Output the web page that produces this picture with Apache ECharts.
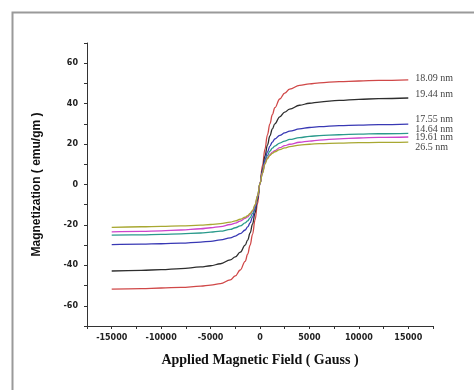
<!DOCTYPE html>
<html>
<head>
<meta charset="utf-8">
<script src="https://cdn.jsdelivr.net/npm/echarts@6/dist/echarts.min.js"></script>
<style>
  html, body { margin: 0; padding: 0; background: #fff; }
  #chart { width: 474px; height: 390px; }
</style>
</head>
<body>
<div id="chart"></div>
<script>
// applied field (Gauss)
const fieldG = [-15000, -12000, -10000, -8000, -6000, -5000, -4000, -3000, -2500, -2000, -1500, -1250, -1000, -750, -500, -250, 0,
  250, 500, 750, 1000, 1250, 1500, 2000, 2500, 3000, 4000, 5000, 6000, 8000, 10000, 12000, 15000];

// magnetization (emu/gm)
const m1809 = [-51.8, -51.5, -51.2, -50.9, -50.3, -49.8, -49.0, -47.2, -45.2, -42.3, -38.0, -34.5, -30.0, -24.5, -17.5, -9.5, 0.5,
  9.5, 17.5, 24.5, 30.0, 34.5, 38.0, 42.3, 45.2, 47.2, 49.0, 49.8, 50.3, 50.9, 51.2, 51.5, 51.8];
const m1944 = [-42.8, -42.5, -42.1, -41.6, -40.8, -40.2, -39.2, -37.3, -35.8, -33.5, -30.0, -27.5, -24.0, -19.5, -14.0, -7.5, 0.5,
  7.5, 14.0, 19.5, 24.0, 27.5, 30.0, 33.5, 35.8, 37.3, 39.2, 40.2, 40.8, 41.6, 42.1, 42.5, 42.8];
const m1755 = [-29.7, -29.5, -29.3, -29.0, -28.5, -28.1, -27.4, -26.4, -25.5, -24.3, -22.5, -21.0, -19.0, -16.0, -12.0, -6.5, 0.5,
  6.5, 12.0, 16.0, 19.0, 21.0, 22.5, 24.3, 25.5, 26.4, 27.5, 28.2, 28.6, 29.1, 29.4, 29.6, 29.9];
const m1464 = [-25.0, -24.9, -24.7, -24.4, -24.0, -23.6, -23.1, -22.2, -21.4, -20.5, -19.0, -18.0, -16.5, -14.3, -11.0, -6.0, 0.5,
  6.0, 11.0, 14.3, 16.5, 18.0, 19.0, 20.5, 21.5, 22.3, 23.2, 23.8, 24.2, 24.6, 24.9, 25.1, 25.3];
const m1961 = [-23.4, -23.2, -22.9, -22.5, -21.9, -21.4, -20.8, -19.8, -19.1, -18.1, -16.8, -16.0, -14.8, -13.2, -10.5, -5.8, 0.5,
  5.8, 10.5, 13.2, 14.8, 16.0, 16.8, 18.2, 19.2, 19.9, 20.9, 21.5, 22.0, 22.6, 23.0, 23.3, 23.5];
const m265 = [-21.2, -20.9, -20.7, -20.5, -20.1, -19.8, -19.4, -18.6, -18.0, -17.2, -16.2, -15.4, -14.3, -12.8, -10.0, -5.5, 0.5,
  5.5, 10.0, 12.8, 14.3, 15.4, 16.2, 17.3, 18.1, 18.7, 19.5, 19.9, 20.2, 20.5, 20.7, 20.8, 21.0];

const sizeLabels = ['18.09 nm', '19.44 nm', '17.55 nm', '14.64 nm', '19.61 nm', '26.5 nm'];
const yTicks = [-60, -40, -20, 0, 20, 40, 60];
const xTicks = [-15000, -10000, -5000, 0, 5000, 10000, 15000];

const seriesData = [m1809, m1944, m1755, m1464, m1961, m265];
const colors = ['#d04848', '#2e2e2e', '#3838b4', '#2a9a8c', '#cc44cc', '#a8a832'];
const labelDy = [-1, -4, -5, -4, 0, 5];

const chart = echarts.init(document.getElementById('chart'), null, { renderer: 'canvas' });

const tickFont = { color: '#222', fontSize: 8, fontWeight: 'bold', fontFamily: 'DejaVu Sans' };

chart.setOption({
  animation: false,
  backgroundColor: '#fff',
  graphic: [{
    type: 'rect', left: 10, top: 10, silent: true,
    shape: { width: 480, height: 400 },
    style: { fill: 'none', stroke: '#9a9a9a', lineWidth: 2 }
  }],
  grid: { left: 87, right: 41, top: 43, bottom: 64 },
  xAxis: {
    type: 'value', min: -17500, max: 17500, interval: 2500,
    name: 'Applied Magnetic Field ( Gauss )', nameLocation: 'middle', nameGap: 27,
    nameTextStyle: { color: '#111', fontSize: 14, fontWeight: 'bold', fontFamily: 'Liberation Serif' },
    axisLine: { onZero: false, lineStyle: { color: '#333', width: 1 } },
    axisTick: { length: 3, lineStyle: { color: '#333' } },
    axisLabel: Object.assign({}, tickFont, {
      margin: 8,
      formatter: v => (xTicks.indexOf(v) >= 0 ? String(v) : '')
    }),
    splitLine: { show: false }
  },
  yAxis: {
    type: 'value', min: -70, max: 70, interval: 10,
    name: 'Magnetization ( emu/gm )', nameLocation: 'middle', nameGap: 44,
    nameTextStyle: { color: '#111', fontSize: 12, fontWeight: 'bold', fontFamily: 'Liberation Sans' },
    axisLine: { show: true, onZero: false, lineStyle: { color: '#333', width: 1 } },
    axisTick: { show: true, length: 3, lineStyle: { color: '#333' } },
    axisLabel: Object.assign({}, tickFont, {
      margin: 9,
      formatter: v => (yTicks.indexOf(v) >= 0 ? String(v) : '')
    }),
    splitLine: { show: false }
  },
  series: seriesData.map((d, i) => ({
    name: sizeLabels[i],
    type: 'line',
    data: fieldG.map((x, j) => [x, d[j]]),
    smooth: 0.4,
    smoothMonotone: 'x',
    showSymbol: false,
    lineStyle: { color: colors[i], width: 1.3 },
    itemStyle: { color: colors[i] },
    endLabel: {
      show: true,
      formatter: sizeLabels[i],
      distance: 7,
      offset: [0, labelDy[i]],
      color: '#444', fontSize: 10, fontFamily: 'Liberation Serif'
    }
  }))
});
</script>
</body>
</html>
